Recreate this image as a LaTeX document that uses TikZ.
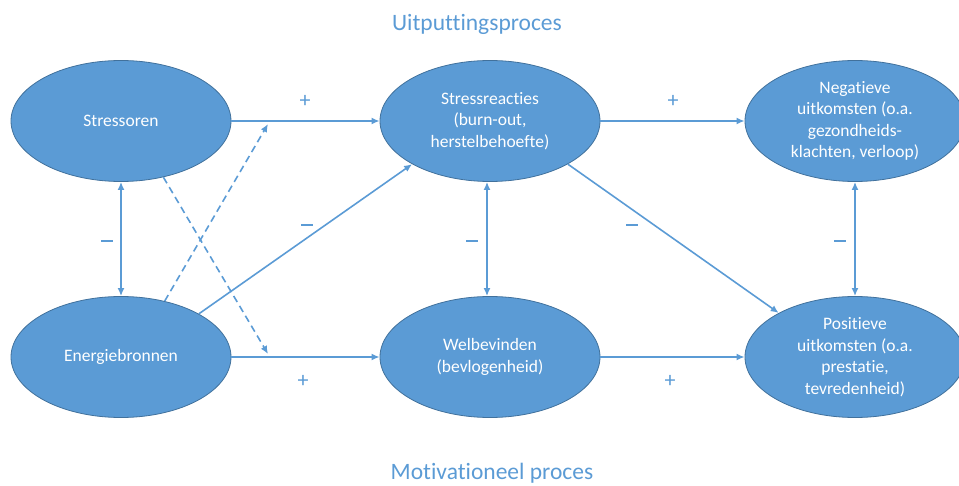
\documentclass[tikz,border=0pt]{standalone}
\usepackage{fontspec}
\setmainfont{Carlito}[Ligatures={NoCommon}]
\usetikzlibrary{arrows.meta,shapes.geometric}
\definecolor{obl}{HTML}{5B9BD5}
\definecolor{obd}{HTML}{41719C}
\tikzset{
  blob/.style={ellipse, fill=obl, draw=obd, line width=0.8pt, minimum width=220pt, minimum height=121pt, inner sep=0pt, text=white, align=center, font=\fontsize{17.5}{21.5}\selectfont},
  conn/.style={draw=obl, line width=1.6pt, -{Latex[length=8pt,width=7pt]}},
  both/.style={conn, {Latex[length=8pt,width=7pt]}-{Latex[length=8pt,width=7pt]}},
  dconn/.style={conn, dash pattern=on 7pt off 4.5pt},
  sign/.style={text=obl, font=\fontsize{22}{22}\selectfont, inner sep=0pt},
  msign/.style={text=obl, inner sep=0pt},
  ttl/.style={text=obl, font=\fontsize{23.5}{26}\selectfont, inner sep=0pt}
}
\newcommand{\mnus}{\rule{12pt}{1.3pt}}
\begin{document}
\begin{tikzpicture}[x=1pt,y=1pt]
\useasboundingbox (0,0) rectangle (959,485);
\node[ttl] (t1) at (477,461) {Uitputtingsproces};
\node[ttl] (t2) at (492,12) {Motivationeel proces};
\node[blob] (S) at (121,364) {Stressoren};
\node[blob] (E) at (121,128) {Energiebronnen};
\node[blob] (SR) at (490,364) {Stressreacties\\(burn-out,\\herstelbehoefte)};
\node[blob] (W) at (490,128) {Welbevinden\\(bevlogenheid)};
\node[blob] (N) at (855,364) {Negatieve\\uitkomsten (o.a.\\gezondheids-\\klachten, verloop)};
\node[blob] (P) at (855,128) {Positieve\\uitkomsten (o.a.\\prestatie,\\tevredenheid)};
\coordinate (d1) at (268,361);
\coordinate (d2) at (268,131);
\draw[conn] (S.east) -- (SR.west);
\draw[conn] (SR.east) -- (N.west);
\draw[conn] (E.east) -- (W.west);
\draw[conn] (W.east) -- (P.west);
\draw[both] (S.south) -- (E.north);
\draw[both] ([xshift=-3pt]SR.south) -- ([xshift=-3pt]W.north);
\draw[both] (N.south) -- (P.north);
\draw[conn] (E.29) -- (SR.209);
\draw[conn] (SR.-29) -- (P.150);
\draw[dconn] (E.52) -- (d1);
\draw[dconn] (S.-53) -- (d2);
\node[sign] (p1) at (305,384) {+};
\node[sign] (p2) at (673,384) {+};
\node[sign] (p3) at (303,104) {+};
\node[sign] (p4) at (670,104) {+};
\node[msign] (m1) at (107,244) {\mnus};
\node[msign] (m2) at (472,244) {\mnus};
\node[msign] (m3) at (840,244) {\mnus};
\node[msign] (m4) at (307,260) {\mnus};
\node[msign] (m5) at (632,260) {\mnus};
\end{tikzpicture}
\end{document}
